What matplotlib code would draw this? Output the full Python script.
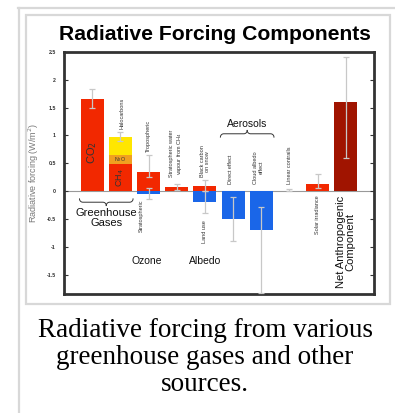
import numpy as np
import matplotlib.pyplot as plt
from matplotlib.lines import Line2D
from matplotlib.patches import Rectangle

# bar segments: slot on x axis, forcing value (W/m2), colour
components = ['CO2', 'CH4', 'N2O', 'Halocarbons', 'Tropospheric ozone',
              'Stratospheric ozone', 'Stratospheric water vapour', 'Land use',
              'Black carbon on snow', 'Direct effect', 'Cloud albedo effect',
              'Linear contrails', 'Solar irradiance', 'Net anthropogenic']
slot = [0, 1, 1, 1, 2, 2, 3, 4, 4, 5, 6, 7, 8, 9]
forcing = [1.66, 0.48, 0.16, 0.34, 0.35, -0.05, 0.07, -0.2, 0.1,
           -0.5, -0.7, 0.01, 0.12, 1.6]
colors = ['#f22800', '#f22800', '#f0a020', '#ffe600', '#f22800', '#1a66e8',
          '#f22800', '#1a66e8', '#f22800', '#1a66e8', '#1a66e8', '#8a2020',
          '#f22800', '#a01400']

# uncertainty ranges
err_slot = [0, 1, 2, 2, 3, 4, 4, 5, 6, 7, 8, 9]
err_val = [1.66, 0.98, 0.35, -0.05, 0.07, -0.2, 0.1, -0.5, -0.7, 0.01, 0.12, 1.6]
err_low = [1.49, 0.90, 0.25, -0.15, 0.02, -0.4, 0.0, -0.9, -1.83, 0.003, 0.06, 0.6]
err_high = [1.83, 1.06, 0.65, 0.05, 0.12, 0.0, 0.2, -0.1, -0.28, 0.03, 0.3, 2.41]

yticks = [-1.5, -1, -0.5, 0, 0.5, 1, 1.5, 2, 2.5]
ytick_labels = ['-1.5', '-1', '-0.5', '0', '0.5', '1', '1.5', '2', '2.5']

fig = plt.figure(figsize=(3.95, 4.13), dpi=100)
plt.rcParams['font.family'] = ['Liberation Sans', 'DejaVu Sans']

W, H = 395, 413
def fx(px):
    return px / W
def fy(py):
    return 1 - py / H

# thumbnail frame
frame = '#d8d8d8'
fig.add_artist(Line2D([fx(18.5), fx(18.5)], [fy(8), fy(413)], color=frame, lw=1.6))
fig.add_artist(Line2D([fx(18), fx(395)], [fy(8), fy(8)], color=frame, lw=1.6))
fig.add_artist(Rectangle((fx(26), fy(304)), fx(390) - fx(26), fy(15) - fy(304),
                         fill=False, edgecolor=frame, lw=1.6))

ax = fig.add_axes([fx(64), fy(294), fx(374) - fx(64), fy(52) - fy(294)])

# stacked bars
pos_top = {}
neg_bot = {}
for s, v, c in zip(slot, forcing, colors):
    if v >= 0:
        b = pos_top.get(s, 0)
        pos_top[s] = b + v
    else:
        b = neg_bot.get(s, 0)
        neg_bot[s] = b + v
    ax.bar(s, v, bottom=b, width=0.82, color=c, zorder=2)

ax.axhline(0, color='#999999', lw=0.8, zorder=1)

for s, v, lo, hi in zip(err_slot, err_val, err_low, err_high):
    ax.errorbar(s, v, yerr=[[v - lo], [hi - v]], color='#c8c8c8', lw=0.9,
                capsize=2.5, capthick=0.9, zorder=3)

ax.set_xlim(-1, 10)
ax.set_ylim(-1.85, 2.5)
ax.set_xticks([])
ax.set_yticks(yticks)
ax.set_yticklabels(ytick_labels)
ax.tick_params(axis='y', direction='in', length=3, width=0.8, right=True,
               labelsize=3.8, pad=6, colors='#333333')
for lbl in ax.get_yticklabels():
    lbl.set_fontweight('bold')
for sp in ax.spines.values():
    sp.set_linewidth(2)
    sp.set_color('#333333')
ax.set_ylabel('Radiative forcing (W/m$^2$)', fontsize=6.5, color='#777777', labelpad=4)


def brace(x0, x1, y, h, sign):
    xm = (x0 + x1) / 2
    w = 0.12
    t = np.linspace(0, np.pi / 2, 12)
    xa = x0 + w * (1 - np.cos(t))
    ya = y + sign * h * (1 - np.sin(t))
    xb = xm - w + w * np.sin(t)
    yb = y - sign * h * (1 - np.cos(t))
    xs = np.concatenate([xa, xb])
    ys = np.concatenate([ya, yb])
    ax.plot(xs, ys, color='#333333', lw=0.7, clip_on=False)
    ax.plot(2 * xm - xs, ys, color='#333333', lw=0.7, clip_on=False)


small = dict(fontsize=4, rotation=90, color='#333333', ha='center')
ax.text(1.05, 1.12, 'Halocarbons', va='bottom', **small)
ax.text(2, 0.70, 'Tropospheric', va='bottom', **small)
ax.text(1.75, -0.15, 'Stratospheric', va='top', **small)
ax.text(3, 0.25, 'Stratospheric water\nvapour from CH$_4$', va='bottom', **small)
ax.text(4, 0.25, 'Black carbon\non snow', va='bottom', **small)
ax.text(4, -0.52, 'Land use', va='top', **small)
ax.text(4.9, 0.13, 'Direct effect', va='bottom', **small)
ax.text(5.9, 0.13, 'Cloud albedo\neffect', va='bottom', **small)
ax.text(7, 0.13, 'Linear contrails', va='bottom', **small)
ax.text(8, -0.08, 'Solar irradiance', va='top', **small)

ax.text(0, 0.7, 'CO$_2$', rotation=90, fontsize=8, color='#333333', ha='center', va='center')
ax.text(1, 0.24, 'CH$_4$', rotation=90, fontsize=6.5, color='#333333', ha='center', va='center')
ax.text(1, 0.56, 'N$_2$O', fontsize=3.8, color='#333333', ha='center', va='center')

big = dict(color='#111111', ha='center')
brace(-0.45, 1.45, -0.2, 0.06, 1)
ax.text(0.5, -0.31, 'Greenhouse\nGases', va='top', linespacing=0.95, fontsize=8, **big)
ax.text(1.95, -1.26, 'Ozone', va='center', fontsize=7.5, **big)
ax.text(4.0, -1.26, 'Albedo', va='center', fontsize=7.5, **big)
brace(4.55, 6.45, 1.03, 0.06, -1)
ax.text(5.5, 1.2, 'Aerosols', va='center', fontsize=7.5, **big)
ax.text(9, -0.08, 'Net Anthropogenic\nComponent', va='top', rotation=90,
        linespacing=0.95, fontsize=8, **big)

fig.text(fx(215), fy(34), 'Radiative Forcing Components', ha='center', va='center',
         fontsize=15.2, fontweight='bold')

caption = ['Radiative forcing from various', 'greenhouse gases and other', 'sources.']
for i, line in enumerate(caption):
    fig.text(fx(205), fy(337 + 27 * i), line, ha='center', va='baseline',
             fontsize=19.5, family=['Liberation Serif', 'DejaVu Serif'])

fig.savefig('out.png', dpi=100)
